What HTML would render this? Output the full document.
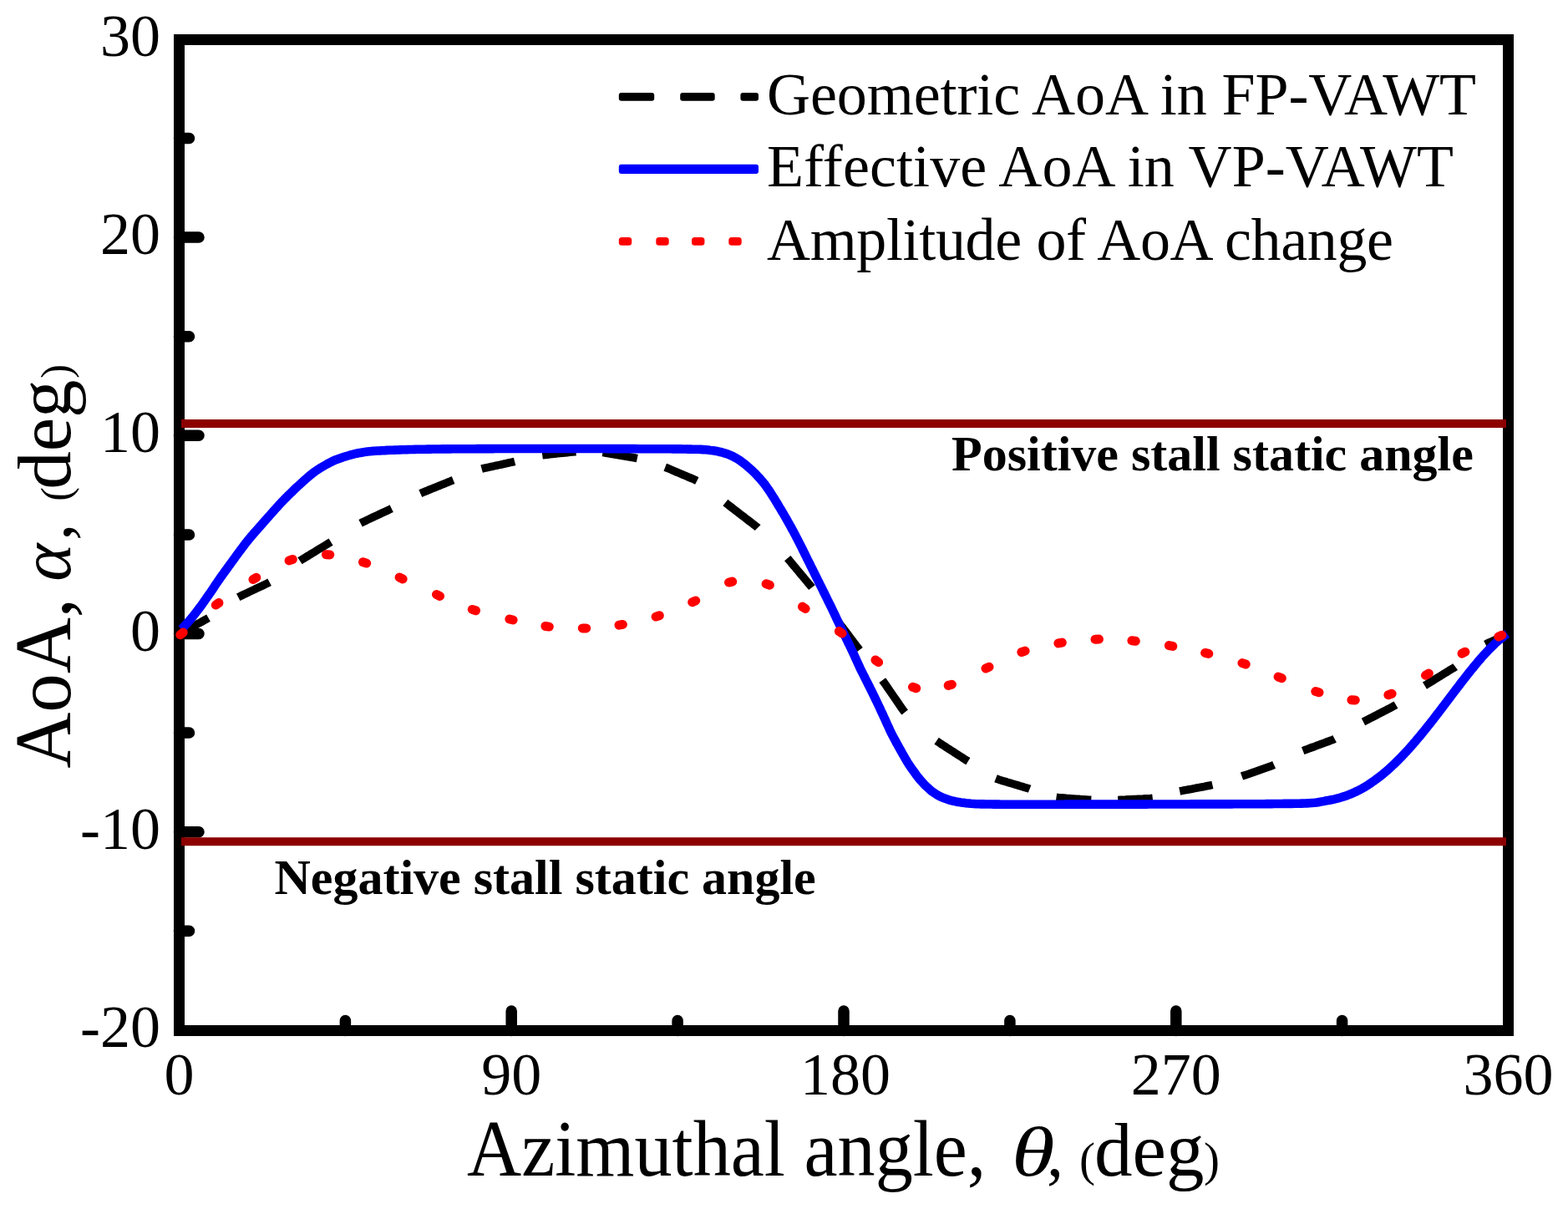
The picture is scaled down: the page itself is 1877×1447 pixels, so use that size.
<!DOCTYPE html>
<html><head><meta charset="utf-8"><title>AoA vs azimuthal angle</title>
<style>html,body{margin:0;padding:0;background:#fff;overflow:hidden;}svg{display:block;}</style>
</head><body>
<svg width="1877" height="1447" viewBox="0 0 1877 1447">
<rect width="100%" height="100%" fill="#fff"/>
<rect x="214.5" y="47.5" width="1591" height="1186" fill="none" stroke="#000" stroke-width="13"/>
<path d="M214.5 284.1H238M214.5 521.3H238M214.5 758.5H238M214.5 995.7H238M214.5 165.5H226.5M214.5 402.7H226.5M214.5 639.9H226.5M214.5 877.1H226.5M214.5 1114.3H226.5M612.2 1233.5V1210M1010 1233.5V1210M1407.8 1233.5V1210M413.4 1233.5V1221.5M811.1 1233.5V1221.5M1208.9 1233.5V1221.5M1606.6 1233.5V1221.5" stroke="#000" stroke-width="13.5" stroke-linecap="round" fill="none"/>
<g stroke="#8c0000" stroke-width="10">
<line x1="217" y1="507" x2="1803" y2="507"/>
<line x1="217" y1="1007.3" x2="1803" y2="1007.3"/>
</g>
<path d="M215.4 758.5 L217.2 757.5 L219.8 756.1 L222.4 754.6 L225 753.2 L227.6 751.7 L230.3 750.3 L232.9 748.8 L235.5 747.4 L238.1 745.9 L240.8 744.5 L243.4 743 L246 741.6 L248.6 740.1 L249.5 739.6M285.2 714.8 L287.9 713.4 L290.6 712.1 L293.3 710.8 L296 709.6 L298.7 708.3 L301.4 707 L304.1 705.7 L306.8 704.4 L309.5 703.2 L312.3 701.9 L315 700.6 L317.7 699.3 L320.4 698 L322.6 696.8M359 671.3 L361.5 669.6 L364.1 668.1 L366.6 666.5 L369.2 665 L371.8 663.4 L374.3 661.8 L376.9 660.3 L379.4 658.7 L382 657.2 L384.6 655.6 L387.1 654.1 L389.7 652.5 L392.3 650.9 L394.8 649.4 L396.1 648.6M431.6 626.2 L434.3 624.8 L437 623.6 L439.7 622.3 L442.4 621 L445.2 619.7 L447.9 618.4 L450.6 617.2 L453.3 615.9 L456 614.6 L458.7 613.3 L461.4 612.1 L464.2 610.8 L466.9 609.5 L468.7 608.6M503.3 590.6 L506 589.4 L508.8 588.3 L511.6 587.2 L514.3 586 L517.1 584.9 L519.9 583.8 L522.7 582.6 L525.5 581.5 L528.2 580.4 L531 579.3 L533.8 578.1 L536.6 577 L539.4 575.9 L542.1 574.8 L542.6 574.6M576.6 561.2 L579.4 560.4 L582.4 559.8 L585.3 559.1 L588.2 558.5 L591.2 557.9 L594.1 557.2 L597 556.6 L600 556 L602.9 555.3 L605.8 554.7 L608.8 554 L611.7 553.4 L614.6 552.8 L616.1 552.4M649.2 544.8 L652.2 544.4 L655.2 544.1 L658.1 543.8 L661.1 543.5 L664.1 543.1 L667.1 542.8 L670.1 542.5 L673.1 542.2 L676 541.9 L679 541.6 L682 541.3 L685 541 L688 540.7 L689.5 540.6M721.4 541.6 L724.4 542 L727.4 542.5 L730.3 543 L733.3 543.5 L736.2 544 L739.2 544.5 L742.2 545 L745.1 545.5 L748.1 546 L751 546.5 L754 547 L757 547.5 L759.9 548 L762.8 548.6M796.2 559.2 L799 560.3 L801.7 561.4 L804.5 562.6 L807.3 563.8 L810 565 L812.8 566.1 L815.6 567.3 L818.3 568.5 L821.1 569.6 L823.8 570.8 L826.6 572 L829.4 573.2 L832.1 574.4 L834.3 575.5M868.4 601.6 L870.8 603.5 L873.2 605.3 L875.5 607.1 L877.9 609 L880.3 610.8 L882.7 612.6 L885 614.5 L887.4 616.3 L889.8 618.1 L892.2 620 L894.6 621.8 L896.9 623.6 L899.3 625.4 L901.7 627.3 L904.1 629.1 L906.4 631 L907.1 631.7M942.7 668.2 L944.7 670.5 L946.6 672.8 L948.5 675.1 L950.4 677.4 L952.4 679.7 L954.3 682 L956.2 684.3 L958.1 686.6 L960 688.9 L962 691.2 L963.9 693.5 L965.8 695.8 L967.7 698.1 L969.7 700.4 L971.6 702.7 L971.9 703.1M1004.1 745.2 L1005.9 747.6 L1007.7 749.9 L1009.6 752.3 L1011.4 754.7 L1013.2 757.1 L1015 759.5 L1016.8 761.9 L1018.6 764.3 L1020.4 766.7 L1022.2 769.1 L1024 771.5 L1025.9 773.9 L1027.7 776.2 L1028.9 777.8M1056.3 814.1 L1058.1 816.6 L1059.8 819 L1061.5 821.5 L1063.2 824 L1064.9 826.4 L1066.6 828.9 L1068.3 831.4 L1070 833.9 L1071.7 836.3 L1073.4 838.8 L1075.1 841.3 L1076.8 843.7 L1078.5 846.2 L1080.2 848.7 L1082 851.1 L1083.2 852.6M1121.1 886.7 L1123.6 888.4 L1126.1 890.1 L1128.6 891.7 L1131.1 893.3 L1133.6 895 L1136.2 896.6 L1138.7 898.2 L1141.2 899.8 L1143.7 901.5 L1146.3 903.1 L1148.8 904.7 L1151.3 906.3 L1153.8 908 L1156.3 909.6 L1158.9 911.2M1192 931.7 L1194.8 932.8 L1197.6 933.7 L1200.5 934.6 L1203.4 935.4 L1206.2 936.3 L1209.1 937.1 L1212 938 L1214.9 938.9 L1217.7 939.7 L1220.6 940.6 L1223.5 941.4 L1226.4 942.3 L1229.2 943.1 L1232.1 944 L1232.6 944.2M1264.5 954.3 L1267.4 954.7 L1270.4 954.9 L1273.4 955.1 L1276.4 955.4 L1279.4 955.6 L1282.4 955.8 L1285.4 956 L1288.4 956.2 L1291.4 956.4 L1294.4 956.7 L1297.4 956.9 L1300.4 957.1 L1303.3 957.3 L1306.3 957.4M1338.3 957.5 L1341.3 957.3 L1344.3 957.2 L1347.3 957.1 L1350.3 956.9 L1353.3 956.8 L1356.3 956.6 L1359.3 956.5 L1362.3 956.3 L1365.3 956.2 L1368.3 956.1 L1371.3 955.9 L1374.3 955.8 L1377.3 955.6 L1379.8 955.3M1412.2 947 L1415.1 946.4 L1418.1 945.8 L1421 945.3 L1424 944.7 L1426.9 944.2 L1429.9 943.6 L1432.8 943 L1435.8 942.5 L1438.7 941.9 L1441.6 941.4 L1444.6 940.8 L1447.5 940.2 L1450.5 939.6 L1451.4 939.4M1486.5 929.1 L1489.3 928.1 L1492.1 927.2 L1495 926.2 L1497.8 925.2 L1500.6 924.2 L1503.5 923.2 L1506.3 922.2 L1509.1 921.2 L1511.9 920.2 L1514.8 919.2 L1517.6 918.2 L1520.4 917.2 L1523.3 916.2 L1525.1 915.4M1559.7 898.6 L1562.5 897.5 L1565.3 896.5 L1568.1 895.4 L1571 894.4 L1573.8 893.4 L1576.6 892.3 L1579.4 891.3 L1582.2 890.2 L1585 889.2 L1587.8 888.1 L1590.7 887.1 L1593.5 886.1 L1596.3 885 L1597.6 884.3M1632 864 L1634.7 862.6 L1637.3 861.2 L1640 859.8 L1642.7 858.4 L1645.3 857.1 L1648 855.7 L1650.7 854.3 L1653.3 852.9 L1656 851.6 L1658.7 850.2 L1661.3 848.8 L1664 847.4 L1666.7 846 L1669.3 844.6 L1671 843.6M1705.5 820.6 L1708.1 819 L1710.6 817.4 L1713.2 815.8 L1715.7 814.3 L1718.3 812.7 L1720.8 811.1 L1723.4 809.6 L1726 808 L1728.5 806.4 L1731.1 804.9 L1733.6 803.3 L1736.2 801.7 L1738.8 800.2 L1741.3 798.6 L1742.1 798M1778.3 771.2 L1780.9 769.9 L1783.6 768.6 L1786.4 767.4 L1789.1 766.2 L1791.9 765 L1794.6 763.8 L1797.4 762.6 L1800.1 761.4 L1802.7 760.2 L1804.6 759.4" fill="none" stroke="#000" stroke-width="9.6" stroke-linejoin="round"/>
<path d="M217.3 753 L218.6 751.7 L220.3 749.9 L222.2 747.8 L224.2 745.7 L226.1 743.5 L228.1 741.2 L230 738.9 L231.9 736.5 L233.7 734.2 L235.6 731.8 L237.4 729.4 L239.2 727 L241 724.6 L242.7 722.2 L244.5 719.7 L246.2 717.3 L247.9 714.8 L249.6 712.4 L251.3 709.9 L253 707.4 L254.7 704.9 L256.4 702.4 L258 699.9 L259.7 697.5 L261.4 695 L263.1 692.5 L264.8 690.1 L266.6 687.6 L268.3 685.2 L270.1 682.8 L271.9 680.3 L273.6 677.9 L275.4 675.5 L277.2 673 L278.9 670.6 L280.7 668.2 L282.4 665.8 L284.2 663.3 L286 660.9 L287.8 658.5 L289.6 656.1 L291.4 653.7 L293.2 651.3 L295 649 L296.9 646.6 L298.8 644.3 L300.7 642 L302.7 639.7 L304.6 637.5 L306.6 635.2 L308.6 633 L310.6 630.7 L312.6 628.4 L314.5 626.2 L316.5 623.9 L318.5 621.7 L320.5 619.4 L322.5 617.2 L324.5 615 L326.5 612.7 L328.5 610.5 L330.5 608.3 L332.5 606.1 L334.5 603.8 L336.6 601.6 L338.7 599.5 L340.7 597.3 L342.9 595.2 L345 593.1 L347.1 591 L349.3 588.9 L351.4 586.8 L353.6 584.7 L355.8 582.6 L358 580.6 L360.2 578.6 L362.4 576.6 L364.7 574.6 L366.9 572.6 L369.2 570.6 L371.5 568.7 L373.8 566.8 L376.2 565 L378.6 563.3 L381.1 561.6 L383.6 560 L386.2 558.5 L388.8 557 L391.4 555.5 L394 554.1 L396.7 552.7 L399.4 551.4 L402.2 550.2 L405 549.2 L407.8 548.2 L410.6 547.2 L413.5 546.3 L416.4 545.5 L419.2 544.7 L422.1 543.9 L425 543.2 L428 542.5 L430.9 541.9 L433.9 541.4 L436.8 540.9 L439.8 540.5 L442.8 540.2 L445.7 539.9 L448.7 539.7 L451.7 539.5 L454.7 539.4 L457.7 539.2 L460.7 539.1 L463.7 538.9 L466.7 538.8 L469.7 538.7 L472.7 538.6 L475.7 538.5 L478.7 538.4 L481.7 538.3 L484.7 538.2 L487.7 538.1 L490.7 538 L493.7 538 L496.7 537.9 L499.7 537.8 L502.7 537.8 L505.7 537.7 L508.7 537.7 L511.7 537.6 L514.7 537.6 L517.7 537.5 L520.7 537.5 L523.7 537.5 L526.7 537.5 L529.7 537.4 L532.7 537.4 L535.7 537.4 L538.7 537.4 L541.7 537.3 L544.7 537.3 L547.7 537.3 L550.7 537.3 L553.7 537.2 L556.7 537.2 L559.7 537.2 L562.7 537.2 L565.7 537.2 L568.7 537.2 L571.7 537.1 L574.7 537.1 L577.7 537.1 L580.7 537.1 L583.7 537.1 L586.7 537.1 L589.7 537.1 L592.7 537 L595.7 537 L598.7 537 L601.7 537 L604.7 537 L607.7 537 L610.7 537 L613.7 537 L616.7 537 L619.7 537 L622.7 537 L625.7 537 L628.7 537 L631.7 537 L634.7 537 L637.7 537 L640.7 537 L643.7 537 L646.7 537 L649.7 537 L652.7 537 L655.7 537 L658.7 537 L661.7 537 L664.7 537 L667.7 537 L670.7 537 L673.7 537 L676.7 537 L679.7 537 L682.7 537 L685.7 537 L688.7 537 L691.7 537 L694.7 537 L697.7 537 L700.7 537 L703.7 537 L706.7 537 L709.7 537 L712.7 537 L715.7 537 L718.7 537 L721.7 537 L724.7 537 L727.7 537.1 L730.7 537.1 L733.7 537.1 L736.7 537.1 L739.7 537.1 L742.7 537.1 L745.7 537.1 L748.7 537.1 L751.7 537.1 L754.7 537.1 L757.7 537.1 L760.7 537.1 L763.7 537.2 L766.7 537.2 L769.7 537.2 L772.7 537.2 L775.7 537.2 L778.7 537.2 L781.7 537.2 L784.7 537.2 L787.7 537.3 L790.7 537.3 L793.7 537.3 L796.7 537.3 L799.7 537.3 L802.7 537.3 L805.7 537.4 L808.7 537.4 L811.7 537.4 L814.7 537.4 L817.7 537.5 L820.7 537.5 L823.7 537.6 L826.7 537.6 L829.7 537.7 L832.7 537.7 L835.7 537.8 L838.7 537.9 L841.7 538.1 L844.7 538.3 L847.6 538.6 L850.6 539 L853.6 539.3 L856.6 539.8 L859.5 540.3 L862.4 541 L865.3 541.7 L868.2 542.6 L871 543.5 L873.8 544.6 L876.5 545.8 L879.2 547.2 L881.8 548.6 L884.3 550.2 L886.8 551.9 L889.2 553.7 L891.6 555.5 L893.9 557.4 L896.2 559.4 L898.4 561.4 L900.6 563.4 L902.8 565.5 L904.9 567.6 L906.9 569.8 L909 572 L910.9 574.2 L912.9 576.5 L914.8 578.8 L916.6 581.2 L918.3 583.7 L920 586.1 L921.7 588.6 L923.3 591.1 L924.9 593.7 L926.5 596.2 L928.1 598.8 L929.6 601.3 L931.2 603.9 L932.7 606.5 L934.3 609 L935.8 611.6 L937.4 614.2 L938.9 616.8 L940.4 619.4 L941.9 622 L943.3 624.6 L944.8 627.2 L946.3 629.8 L947.7 632.5 L949.2 635.1 L950.6 637.7 L952 640.4 L953.4 643.1 L954.7 645.7 L956.1 648.4 L957.5 651.1 L958.8 653.7 L960.2 656.4 L961.5 659.1 L962.8 661.8 L964.2 664.5 L965.5 667.2 L966.8 669.9 L968.2 672.6 L969.5 675.2 L970.8 677.9 L972.2 680.6 L973.5 683.3 L974.8 686 L976.2 688.7 L977.5 691.4 L978.8 694 L980.2 696.7 L981.5 699.4 L982.9 702.1 L984.2 704.8 L985.5 707.5 L986.9 710.2 L988.2 712.9 L989.5 715.5 L990.8 718.2 L992.1 720.9 L993.5 723.6 L994.8 726.3 L996.1 729 L997.4 731.7 L998.7 734.4 L1000 737.1 L1001.3 739.9 L1002.5 742.6 L1003.8 745.3 L1005.1 748 L1006.4 750.7 L1007.7 753.4 L1009 756.1 L1010.3 758.8 L1011.7 761.5 L1013 764.2 L1014.3 766.9 L1015.6 769.6 L1016.9 772.3 L1018.2 775 L1019.5 777.7 L1020.8 780.4 L1022.1 783.1 L1023.3 785.8 L1024.5 788.6 L1025.8 791.3 L1027 794 L1028.3 796.8 L1029.5 799.5 L1030.8 802.2 L1032.2 804.9 L1033.5 807.5 L1034.9 810.2 L1036.2 812.9 L1037.6 815.6 L1038.9 818.3 L1040.3 821 L1041.6 823.6 L1042.9 826.3 L1044.3 829 L1045.6 831.7 L1046.9 834.4 L1048.2 837.1 L1049.5 839.8 L1050.8 842.5 L1052.1 845.2 L1053.4 847.9 L1054.6 850.7 L1055.9 853.4 L1057.2 856.1 L1058.4 858.8 L1059.7 861.6 L1060.9 864.3 L1062.1 867 L1063.4 869.7 L1064.6 872.5 L1065.9 875.2 L1067.2 877.9 L1068.6 880.6 L1070 883.2 L1071.4 885.8 L1072.8 888.5 L1074.3 891.1 L1075.7 893.7 L1077.2 896.4 L1078.7 899 L1080.1 901.6 L1081.6 904.2 L1083.1 906.8 L1084.6 909.4 L1086.1 912 L1087.7 914.5 L1089.4 917 L1091.1 919.5 L1092.8 921.9 L1094.6 924.3 L1096.4 926.8 L1098.1 929.2 L1100 931.5 L1101.9 933.8 L1103.9 936.1 L1105.9 938.3 L1108 940.4 L1110.2 942.4 L1112.4 944.4 L1114.7 946.4 L1117.1 948.2 L1119.6 949.9 L1122.1 951.5 L1124.7 952.9 L1127.4 954.2 L1130.1 955.3 L1133 956.3 L1135.8 957.3 L1138.7 958.1 L1141.6 958.8 L1144.5 959.4 L1147.5 959.9 L1150.4 960.4 L1153.4 960.8 L1156.4 961.2 L1159.3 961.5 L1162.3 961.8 L1165.3 962 L1168.3 962.2 L1171.3 962.3 L1174.3 962.4 L1177.3 962.4 L1180.3 962.5 L1183.3 962.5 L1186.3 962.5 L1189.3 962.6 L1192.3 962.6 L1195.3 962.6 L1198.3 962.7 L1201.3 962.7 L1204.3 962.7 L1207.3 962.7 L1210.3 962.7 L1213.3 962.7 L1216.3 962.7 L1219.3 962.7 L1222.3 962.7 L1225.3 962.7 L1228.3 962.7 L1231.3 962.7 L1234.3 962.7 L1237.3 962.7 L1240.3 962.7 L1243.3 962.7 L1246.3 962.7 L1249.3 962.7 L1252.3 962.7 L1255.3 962.7 L1258.3 962.7 L1261.3 962.7 L1264.3 962.7 L1267.3 962.7 L1270.3 962.7 L1273.3 962.7 L1276.3 962.6 L1279.3 962.6 L1282.3 962.6 L1285.3 962.6 L1288.3 962.6 L1291.3 962.6 L1294.3 962.6 L1297.3 962.6 L1300.3 962.6 L1303.3 962.6 L1306.3 962.6 L1309.3 962.6 L1312.3 962.6 L1315.3 962.6 L1318.3 962.6 L1321.3 962.6 L1324.3 962.6 L1327.3 962.6 L1330.3 962.6 L1333.3 962.6 L1336.3 962.6 L1339.3 962.6 L1342.3 962.6 L1345.3 962.6 L1348.3 962.6 L1351.3 962.6 L1354.3 962.6 L1357.3 962.6 L1360.3 962.6 L1363.3 962.6 L1366.3 962.6 L1369.3 962.6 L1372.3 962.6 L1375.3 962.5 L1378.3 962.5 L1381.3 962.5 L1384.3 962.5 L1387.3 962.5 L1390.3 962.5 L1393.3 962.5 L1396.3 962.5 L1399.3 962.5 L1402.3 962.5 L1405.3 962.5 L1408.3 962.5 L1411.3 962.5 L1414.3 962.5 L1417.3 962.5 L1420.3 962.5 L1423.3 962.5 L1426.3 962.4 L1429.3 962.4 L1432.3 962.4 L1435.3 962.4 L1438.3 962.4 L1441.3 962.4 L1444.3 962.4 L1447.3 962.4 L1450.3 962.4 L1453.3 962.4 L1456.3 962.4 L1459.3 962.4 L1462.3 962.4 L1465.3 962.4 L1468.3 962.4 L1471.3 962.4 L1474.3 962.4 L1477.3 962.3 L1480.3 962.3 L1483.3 962.3 L1486.3 962.3 L1489.3 962.3 L1492.3 962.3 L1495.3 962.3 L1498.3 962.3 L1501.3 962.3 L1504.3 962.3 L1507.3 962.2 L1510.3 962.2 L1513.3 962.2 L1516.3 962.1 L1519.3 962.1 L1522.3 962.1 L1525.3 962 L1528.3 962 L1531.3 962 L1534.3 962 L1537.3 961.9 L1540.3 961.9 L1543.3 961.9 L1546.3 961.9 L1549.3 961.8 L1552.3 961.8 L1555.3 961.7 L1558.3 961.6 L1561.3 961.5 L1564.3 961.4 L1567.3 961.2 L1570.3 961 L1573.3 960.8 L1576.2 960.4 L1579.2 959.9 L1582.1 959.4 L1585.1 958.9 L1588 958.3 L1591 957.8 L1593.9 957.2 L1596.9 956.6 L1599.8 955.9 L1602.7 955.2 L1605.6 954.3 L1608.4 953.4 L1611.3 952.5 L1614.1 951.4 L1616.9 950.3 L1619.6 949.1 L1622.3 947.9 L1625 946.6 L1627.7 945.2 L1630.3 943.8 L1632.9 942.3 L1635.5 940.8 L1638.1 939.2 L1640.6 937.5 L1643 935.8 L1645.5 934.1 L1647.9 932.3 L1650.3 930.5 L1652.7 928.7 L1655 926.8 L1657.3 924.9 L1659.6 923 L1661.9 921 L1664.1 919 L1666.3 916.9 L1668.5 914.9 L1670.6 912.8 L1672.8 910.7 L1674.9 908.6 L1677 906.4 L1679.1 904.3 L1681.1 902.1 L1683.2 899.9 L1685.2 897.7 L1687.2 895.5 L1689.2 893.2 L1691.2 891 L1693.1 888.7 L1695.1 886.4 L1697 884.1 L1699 881.8 L1700.9 879.5 L1702.8 877.2 L1704.7 874.9 L1706.6 872.5 L1708.4 870.2 L1710.3 867.9 L1712.2 865.5 L1714 863.1 L1715.9 860.8 L1717.7 858.4 L1719.5 856 L1721.4 853.6 L1723.2 851.3 L1725 848.9 L1726.8 846.5 L1728.6 844.1 L1730.4 841.7 L1732.3 839.3 L1734.1 836.9 L1735.9 834.5 L1737.7 832.1 L1739.5 829.8 L1741.3 827.4 L1743.1 825 L1744.9 822.6 L1746.8 820.2 L1748.6 817.8 L1750.4 815.4 L1752.3 813.1 L1754.1 810.7 L1756 808.4 L1757.8 806 L1759.7 803.7 L1761.6 801.3 L1763.5 799 L1765.4 796.7 L1767.3 794.4 L1769.2 792.1 L1771.2 789.8 L1773.1 787.5 L1775.1 785.3 L1777.1 783.1 L1779.2 780.9 L1781.2 778.7 L1783.3 776.5 L1785.4 774.4 L1787.6 772.3 L1789.8 770.2 L1792 768.2 L1794.2 766.3 L1796.5 764.3 L1798.8 762.5 L1800.9 760.8 L1802.8 759.4 L1804.1 758.5 L1804.1 758.5" fill="none" stroke="#0000ff" stroke-width="10.6" stroke-linejoin="round"/>
<path d="M215.8 759.7L219.2 756.9M258.3 724.1L261.9 721.5M303 693.5L306.8 691.3M346.1 670.9L350.3 669.5M390.4 663.7L394.8 663.9M434.5 672.7L438.7 674.1M478.1 691.1L482.1 692.9M522.5 711.6L526.5 713.4M565.3 729.4L569.5 730.8M609.9 741L614.1 742M652.9 749.5L657.3 750.1M697.3 751.9L701.7 751.9M741 748.2L745.4 747.4M785.1 738.1L789.3 736.7M828.7 720.7L832.7 718.9M872.5 697.1L876.7 696.1M917.1 698.8L921.3 700.2M960.5 726.1L964.1 728.5M1004.4 755.5L1008 758.1M1048 790L1051.6 792.6M1092.5 822.3L1096.7 823.7M1135.2 820.4L1139.4 819.2M1180 800L1184 798.2M1222.9 780.5L1227.1 779.1M1266.9 769.9L1271.3 769.1M1311 765.3L1315.4 765.1M1354.9 766.8L1359.3 767.2M1399.4 772.6L1403.8 773.4M1442.6 781.4L1446.8 782.4M1487 793.6L1491.2 795M1530.1 810.1L1534.3 811.7M1574.8 827.5L1579 828.7M1617.9 837.8L1622.3 838M1661.9 831.7L1666.1 830.3M1706.5 808.3L1710.3 806.1M1750.1 782.2L1753.9 780.2M1793.8 762L1797.8 760.2" stroke="#ff0000" stroke-width="11" stroke-linecap="round" fill="none"/>
<g font-family="'Liberation Serif', serif" font-size="72" text-anchor="end" fill="#000">
<text x="192" y="66.9">30</text>
<text x="192" y="304.1">20</text>
<text x="192" y="541.3">10</text>
<text x="192" y="778.5">0</text>
<text x="192" y="1015.7">-10</text>
<text x="192" y="1252.9">-20</text>
</g>
<g font-family="'Liberation Serif', serif" font-size="72" text-anchor="middle" fill="#000">
<text x="214.5" y="1309.5">0</text>
<text x="612.2" y="1309.5">90</text>
<text x="1012" y="1309.5">180</text>
<text x="1407.8" y="1309.5">270</text>
<text x="1805.5" y="1309.5">360</text>
</g>
<g font-family="'Liberation Serif', serif" fill="#000">
<text transform="translate(559 1406.5) scale(0.95 1)" font-size="95">Azimuthal angle,</text>
<text transform="translate(1211 1406.5) scale(1.25 1)" font-size="84" font-style="italic">θ</text>
<text x="1253" y="1406.5" font-size="80">,</text>
<text x="1292" y="1406.5" font-size="57">(</text>
<text x="1310" y="1406.5" font-size="91">deg</text>
<text x="1441" y="1406.5" font-size="57">)</text>
</g>
<g font-family="'Liberation Serif', serif" fill="#000" transform="translate(84 918.8) rotate(-90)">
<text transform="translate(-1 0) scale(0.978 1)" font-size="95">AoA,</text>
<text x="223" y="0" font-size="86" font-style="italic">α</text>
<text x="272" y="0" font-size="80">,</text>
<text x="319" y="0" font-size="50">(</text>
<text x="333" y="0" font-size="91">deg</text>
<text x="466" y="0" font-size="50">)</text>
</g>
<g fill="#000"><rect x="740.8" y="111" width="42.4" height="9.8" rx="3"/><rect x="814.2" y="111" width="41.5" height="9.8" rx="3"/><rect x="886.4" y="111" width="21.6" height="9.8" rx="3"/></g>
<rect x="740.8" y="196.7" width="167.2" height="11.4" rx="3" fill="#0000ff"/>
<g fill="#ff0000"><rect x="740.8" y="284.1" width="15.4" height="9.6" rx="3.5"/><rect x="785.3" y="284.1" width="15.4" height="9.6" rx="3.5"/><rect x="828.0" y="284.1" width="15.4" height="9.6" rx="3.5"/><rect x="872.3" y="284.1" width="15.4" height="9.6" rx="3.5"/></g>
<g font-family="'Liberation Serif', serif" font-size="72" fill="#000">
<text x="918" y="137.4" textLength="849" lengthAdjust="spacing">Geometric AoA in FP-VAWT</text>
<text x="918" y="223" textLength="822" lengthAdjust="spacing">Effective AoA in VP-VAWT</text>
<text x="918" y="311" textLength="750" lengthAdjust="spacing">Amplitude of AoA change</text>
</g>
<g font-family="'Liberation Serif', serif" font-size="60" font-weight="bold" fill="#000">
<text x="1139" y="562.5">Positive stall static angle</text>
<text x="328.5" y="1070.4">Negative stall static angle</text>
</g>
</svg>
</body></html>
